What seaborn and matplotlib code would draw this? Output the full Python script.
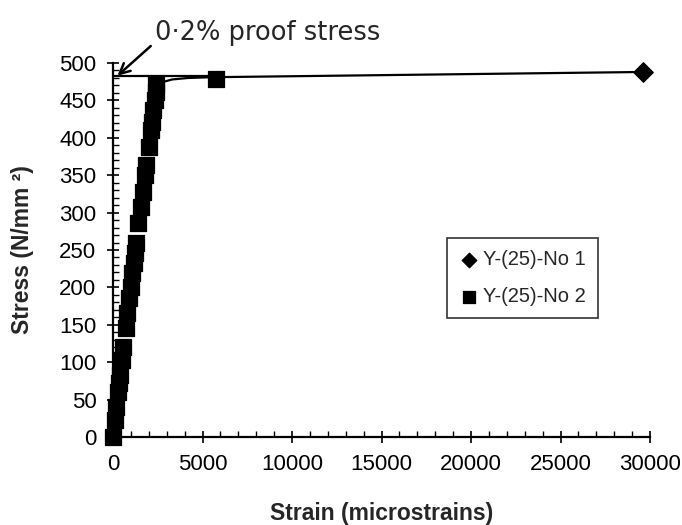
import matplotlib
matplotlib.use("Agg")
import matplotlib.pyplot as plt
from matplotlib.ticker import MultipleLocator
import seaborn as sns
import pandas as pd

sns.set_theme(style="ticks")
plt.rcParams['font.family'] = ['Liberation Sans', 'DejaVu Sans']

# Series 2 (squares): strain (microstrains) and stress (N/mm²)
no2_stress = [0, 23, 40, 60, 72, 83, 103, 120, 146, 166, 186, 200, 219, 233, 246,
              259, 286, 307, 327, 350, 364, 388, 410, 421, 437, 451, 461, 470, 479]
no2_strain = [0, 110, 190, 290, 340, 400, 500, 580, 720, 800, 900, 980, 1060, 1150, 1210,
              1290, 1420, 1560, 1660, 1790, 1870, 1990, 2100, 2170, 2250, 2320, 2380, 2430, 5750]

# Series 1 (diamonds): curve after yielding
no1_strain = [2350, 2700, 3300, 4200, 5500, 29600]
no1_stress = [465, 474, 478, 480, 481, 488]

# 0.2 % proof stress line
proof_strain = [0, 5500]
proof_stress = [483, 483]

df2 = pd.DataFrame({"strain": no2_strain, "stress": no2_stress})
df1 = pd.DataFrame({"strain": no1_strain, "stress": no1_stress})

fig = plt.figure(figsize=(6.82, 5.25), dpi=100)
ax = fig.add_axes([113/682, 1-437/525, (650-113)/682, (437-63)/525])

ax.plot(proof_strain, proof_stress, color="black", lw=1.6, zorder=2)
ax.plot(no1_strain, no1_stress, color="black", lw=1.6, zorder=2)

sns.scatterplot(data=df1.iloc[[-1]], x="strain", y="stress", marker="D", s=100,
                color="black", edgecolor="black", ax=ax, zorder=3, clip_on=False,
                label="Y-(25)-No 1")
sns.scatterplot(data=df2, x="strain", y="stress", marker="s", s=130,
                color="black", edgecolor="black", ax=ax, zorder=3, clip_on=False,
                label="Y-(25)-No 2")

ax.set_xlim(0, 30000)
ax.set_ylim(0, 500)
ax.xaxis.set_major_locator(MultipleLocator(5000))
ax.xaxis.set_minor_locator(MultipleLocator(1000))
ax.yaxis.set_major_locator(MultipleLocator(50))
ax.yaxis.set_minor_locator(MultipleLocator(10))
ax.tick_params(which="major", direction="inout", length=8, width=1.2, colors="black",
               labelsize=16, pad=8)
ax.tick_params(which="minor", direction="in", length=4, width=1.0, colors="black")

for s in ["top", "right"]:
    ax.spines[s].set_visible(False)
for s in ["left", "bottom"]:
    ax.spines[s].set_linewidth(1.6)
    ax.spines[s].set_color("black")

ax.set_xlabel("Strain (microstrains)", fontsize=16.5, fontweight="bold", labelpad=20)
ax.set_ylabel("Stress (N/mm ²)", fontsize=16.5, fontweight="bold", labelpad=18)

leg = ax.legend(loc="upper left", bbox_to_anchor=((447-113)/537, (437-238)/374),
                frameon=True, fancybox=False, edgecolor="black", fontsize=14.5,
                handletextpad=0.2, borderpad=0.6, labelspacing=0.9, markerscale=0.75,
                handlelength=1.0, borderaxespad=0)
leg.get_frame().set_linewidth(1.2)

ax.annotate("0·2% proof stress", xy=(250, 483), xytext=(2350, 540),
            fontsize=18.5, textcoords="data", annotation_clip=False,
            va="center", ha="left", family=["DejaVu Sans"],
            arrowprops=dict(arrowstyle="->", color="black", lw=1.8,
                            shrinkA=1, shrinkB=0, relpos=(0.0, 0.15)))

fig.savefig("out.png", dpi=100)
